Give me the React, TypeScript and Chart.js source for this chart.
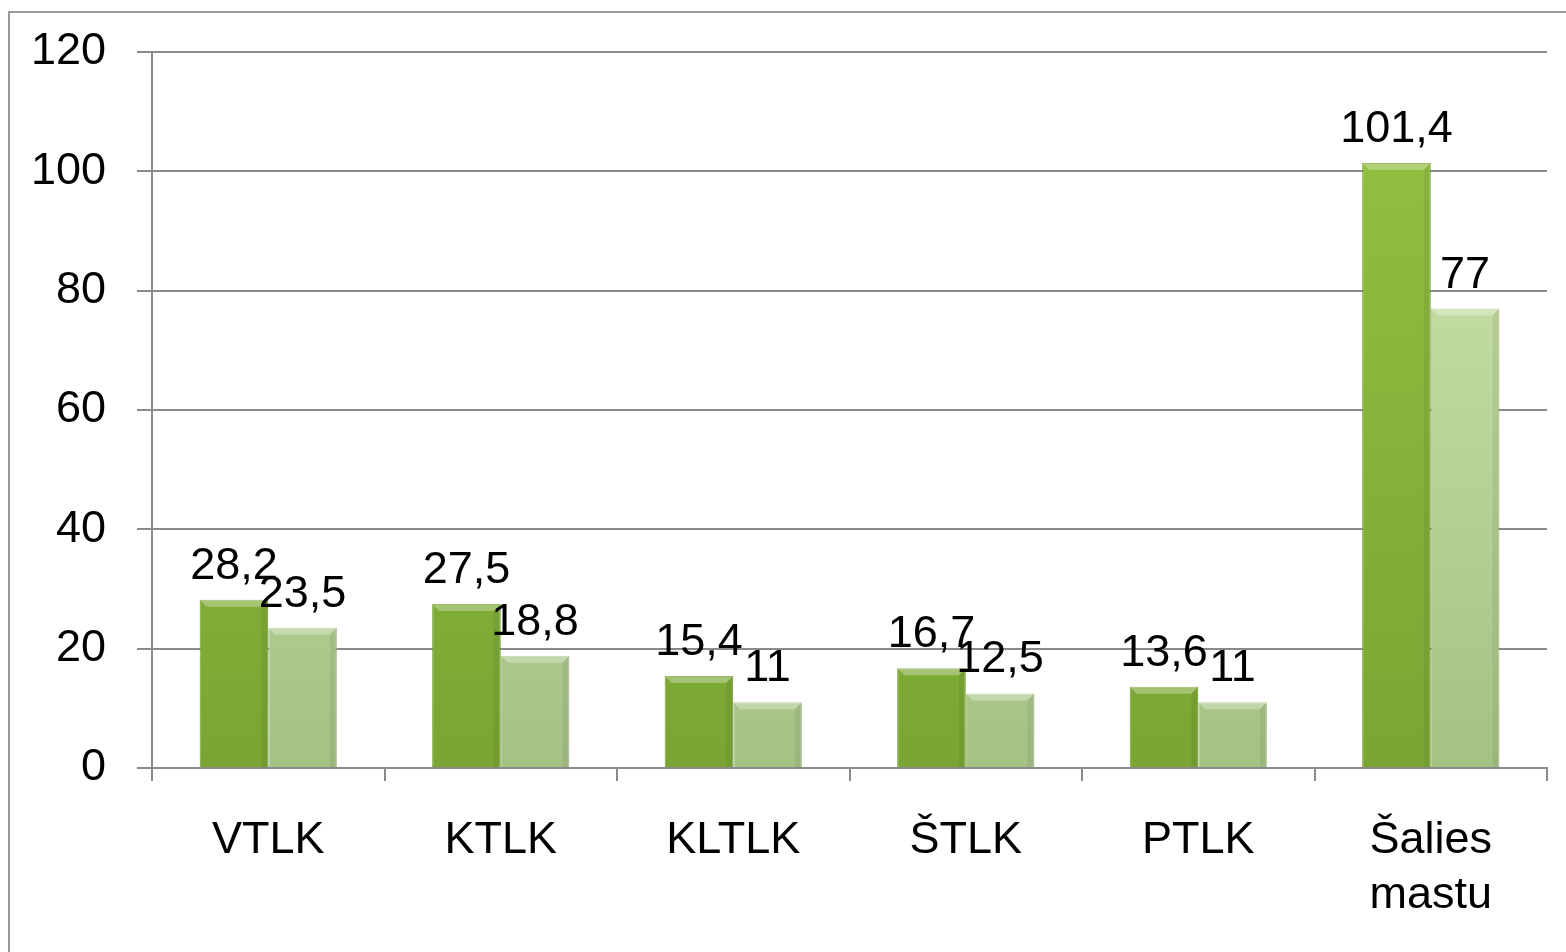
import React, { useEffect, useRef } from "react";
import { Chart, registerables } from "chart.js";

Chart.register(...registerables);

const categories: (string | string[])[] = ["VTLK", "KTLK", "KLTLK", "ŠTLK", "PTLK", ["Šalies", "mastu"]];
const seriesA = [28.2, 27.5, 15.4, 16.7, 13.6, 101.4];
const seriesB = [23.5, 18.8, 11, 12.5, 11, 77];
const yMin = 0;
const yMax = 120;
const yStep = 20;

const FONT = "'Liberation Sans', Arial, sans-serif";
const FONT_SIZE = 45;
const GRID = "#8a8a8a";

const fmt = (v: number) => String(v).replace(".", ",");

const bevelAndLabels = {
  id: "bevelAndLabels",
  afterDatasetsDraw(chart: any) {
    const ctx = chart.ctx;
    ctx.save();
    chart.data.datasets.forEach((ds: any, di: number) => {
      const meta = chart.getDatasetMeta(di);
      meta.data.forEach((bar: any) => {
        const w = bar.width;
        const l = bar.x - w / 2;
        const r = bar.x + w / 2;
        const t = bar.y;
        const b = bar.base;
        const e = 7;
        ctx.fillStyle = "rgba(255,255,255,0.3)";
        ctx.beginPath();
        ctx.moveTo(l, t);
        ctx.lineTo(r, t);
        ctx.lineTo(r - e, t + e);
        ctx.lineTo(l + e, t + e);
        ctx.closePath();
        ctx.fill();
        ctx.fillStyle = "rgba(0,0,0,0.06)";
        ctx.beginPath();
        ctx.moveTo(r, t);
        ctx.lineTo(r, b);
        ctx.lineTo(r - e, b);
        ctx.lineTo(r - e, t + e);
        ctx.closePath();
        ctx.fill();
      });
    });
    ctx.fillStyle = "#000";
    ctx.font = `${FONT_SIZE}px ${FONT}`;
    ctx.textAlign = "center";
    ctx.textBaseline = "alphabetic";
    chart.data.datasets.forEach((ds: any, di: number) => {
      const meta = chart.getDatasetMeta(di);
      meta.data.forEach((bar: any, i: number) => {
        ctx.fillText(fmt(ds.data[i]), bar.x, bar.y - 21);
      });
    });
    ctx.restore();
  },
};

function makeGradient(chart: any, top: string, bottom: string) {
  const area = chart.chartArea;
  if (!area) return top;
  const g = chart.ctx.createLinearGradient(0, area.top, 0, area.bottom);
  g.addColorStop(0, top);
  g.addColorStop(1, bottom);
  return g;
}

export default function App() {
  const ref = useRef<HTMLCanvasElement | null>(null);
  useEffect(() => {
    if (!ref.current) return;
    const chart = new Chart(ref.current, {
      type: "bar",
      data: {
        labels: categories,
        datasets: [
          {
            data: seriesA,
            backgroundColor: (c: any) => makeGradient(c.chart, "#95c342", "#7aa533"),
            borderColor: "#76a030",
            borderWidth: 1,
            categoryPercentage: 0.59,
            barPercentage: 1,
          },
          {
            data: seriesB,
            backgroundColor: (c: any) => makeGradient(c.chart, "#d0e9ae", "#a5c285"),
            borderColor: "#a8c288",
            borderWidth: 1,
            categoryPercentage: 0.59,
            barPercentage: 1,
          },
        ],
      },
      options: {
        responsive: false,
        animation: false,
        devicePixelRatio: 1,
        layout: { padding: { top: 39, left: 0, right: 21, bottom: 0 } },
        plugins: { legend: { display: false }, tooltip: { enabled: false } },
        scales: {
          x: {
            afterFit: (s: any) => {
              s.height = 188;
              s.paddingLeft = 0;
              s.paddingRight = 0;
            },
            grid: {
              offset: true,
              drawOnChartArea: false,
              drawTicks: true,
              tickLength: 13,
              color: GRID,
              lineWidth: 2,
            },
            border: { display: true, color: GRID, width: 2 },
            ticks: {
              color: "#000",
              padding: 32,
              maxRotation: 0,
              autoSkip: false,
              font: { family: FONT, size: FONT_SIZE, lineHeight: 1.22 },
            },
          },
          y: {
            min: yMin,
            max: yMax,
            afterFit: (s: any) => {
              s.width = 142;
              s.paddingTop = 0;
              s.paddingBottom = 0;
            },
            grid: {
              color: GRID,
              lineWidth: 2,
              drawTicks: true,
              tickLength: 15,
            },
            border: { display: true, color: GRID, width: 2 },
            ticks: {
              stepSize: yStep,
              color: "#000",
              padding: 31,
              font: { family: FONT, size: FONT_SIZE },
            },
          },
        },
      },
      plugins: [bevelAndLabels],
    } as any);
    return () => chart.destroy();
  }, []);
  return (
    <div
      style={{
        position: "fixed",
        left: 8,
        top: 11,
        width: 1560,
        height: 945,
        borderTop: "2px solid #9a9a9a",
        borderLeft: "2px solid #9a9a9a",
        boxSizing: "border-box",
        background: "#fff",
      }}
    >
      <canvas ref={ref} width={1558} height={943} style={{ display: "block" }} />
    </div>
  );
}
